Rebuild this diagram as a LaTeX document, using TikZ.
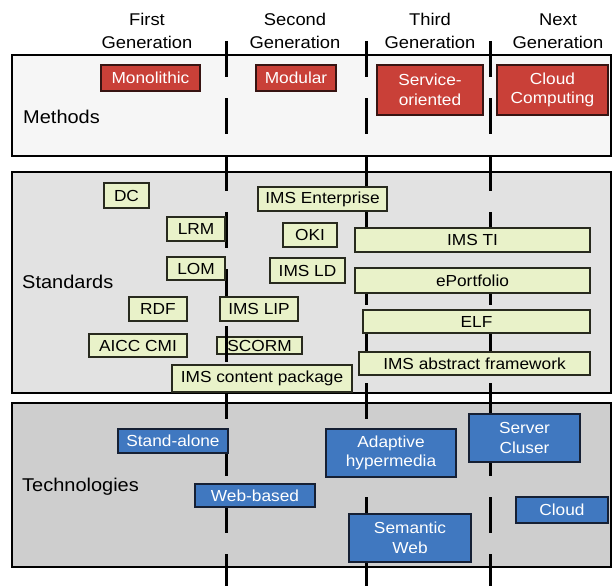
\documentclass[tikz,border=0pt]{standalone}
\usepackage{fontspec}
\setmainfont[FakeStretch=1.08]{Liberation Sans}
\definecolor{redbox}{RGB}{201,64,56}
\definecolor{redline}{RGB}{55,20,18}
\definecolor{greenbox}{RGB}{233,242,201}
\definecolor{greenline}{RGB}{40,42,30}
\definecolor{bluebox}{RGB}{64,120,192}
\definecolor{blueline}{RGB}{22,32,52}
\definecolor{methfill}{RGB}{246,246,246}
\definecolor{stdfill}{RGB}{226,226,226}
\definecolor{techfill}{RGB}{206,206,206}
\begin{document}
\begin{tikzpicture}[x=1pt,y=-1pt,
  tbox/.style={draw, line width=1.5pt, inner sep=0pt, align=center, font=\fontsize{16}{19.5}\selectfont},
  rbox/.style={tbox, fill=redbox, draw=redline, text=white},
  gbox/.style={tbox, fill=greenbox, draw=greenline, text=black},
  bbox/.style={tbox, fill=bluebox, draw=blueline, text=white},
  panel/.style={draw=black, line width=1.2pt},
  genline/.style={draw=black, line width=3pt, dash pattern=on 36pt off 21pt},
  hdr/.style={align=center, inner sep=0pt, font=\fontsize{17}{23.3}\selectfont},
  lbl/.style={anchor=west, inner sep=0pt, font=\fontsize{18.5}{22}\selectfont}]
\useasboundingbox[fill=white] (0,0) rectangle (613,586);

% panels
\draw[panel, fill=methfill] (12,55) rectangle (611,156);
\draw[panel, fill=stdfill] (12,172) rectangle (611,393);
\draw[panel, fill=techfill] (12,403) rectangle (611,567);

% headers
\node[hdr] (g1) at (147,31) {First\\Generation};
\node[hdr] (g2) at (295,31) {Second\\Generation};
\node[hdr] (g3) at (430,31) {Third\\Generation};
\node[hdr] (g4) at (558,31) {Next\\Generation};

% panel labels
\node[lbl] (meth) at (23,117) {Methods};
\node[lbl] (std) at (22,282) {Standards};
\node[lbl] (tech) at (22,487) {Technologies};

% box lying under the generation line
\node[gbox, minimum width=85pt, minimum height=17pt] (scorm) at (259.5,345.5) {SCORM};

% generation boundaries
\coordinate (l1t) at (226,41); \coordinate (l1b) at (226,586);
\coordinate (l2t) at (366,41); \coordinate (l2b) at (366,586);
\coordinate (l3t) at (490,41); \coordinate (l3b) at (490,586);
\draw[genline] (l1t) -- (l1b);
\draw[genline] (l2t) -- (l2b);
\draw[genline] (l3t) -- (l3b);

% methods
\node[rbox, minimum width=99pt, minimum height=26pt] (mono) at (150.5,78) {Monolithic};
\node[rbox, minimum width=80pt, minimum height=26pt] (modu) at (296,78) {Modular};
\node[rbox, minimum width=106pt, minimum height=50pt] (soa) at (430,90) {Service-\\oriented};
\node[rbox, minimum width=111pt, minimum height=50pt] (cc) at (552.5,90) {Cloud\\Computing};

% standards
\node[gbox, minimum width=45pt, minimum height=25pt] (dc) at (126.5,195.5) {DC};
\node[gbox, minimum width=129pt, minimum height=24pt] (imse) at (322.5,199) {IMS Enterprise};
\node[gbox, minimum width=58pt, minimum height=24pt] (lrm) at (196,229) {LRM};
\node[gbox, minimum width=54pt, minimum height=24pt] (oki) at (310,235) {OKI};
\node[gbox, minimum width=235pt, minimum height=24pt] (imsti) at (472.5,240) {IMS TI};
\node[gbox, minimum width=58pt, minimum height=23pt] (lom) at (196,268.5) {LOM};
\node[gbox, minimum width=75pt, minimum height=25pt] (imsld) at (307.5,270.5) {IMS LD};
\node[gbox, minimum width=235pt, minimum height=25pt] (eport) at (472.5,280.5) {ePortfolio};
\node[gbox, minimum width=58pt, minimum height=24pt] (rdf) at (158,309) {RDF};
\node[gbox, minimum width=78pt, minimum height=24pt] (imslip) at (259,309) {IMS LIP};
\node[gbox, minimum width=227pt, minimum height=23pt] (elf) at (476.5,321.5) {ELF};
\node[gbox, minimum width=98pt, minimum height=23pt] (aicc) at (138,345.5) {AICC CMI};
\node[gbox, minimum width=231pt, minimum height=23pt] (imsaf) at (474.5,363.5) {IMS abstract framework};
\node[gbox, minimum width=180pt, minimum height=27pt] (imscp) at (262,378.5) {IMS content package};

% technologies
\node[bbox, minimum width=110pt, minimum height=24pt] (stand) at (173,441) {Stand-alone};
\node[bbox, minimum width=130pt, minimum height=48pt] (adapt) at (391,453) {Adaptive\\hypermedia};
\node[bbox, minimum width=111pt, minimum height=48pt] (server) at (524.5,438) {Server\\Cluser};
\node[bbox, minimum width=120pt, minimum height=23pt] (web) at (255,495.5) {Web-based};
\node[bbox, minimum width=122pt, minimum height=48pt] (sem) at (410,538) {Semantic\\Web};
\node[bbox, minimum width=92pt, minimum height=26pt] (cloud) at (562,510) {Cloud};
\end{tikzpicture}
\end{document}
